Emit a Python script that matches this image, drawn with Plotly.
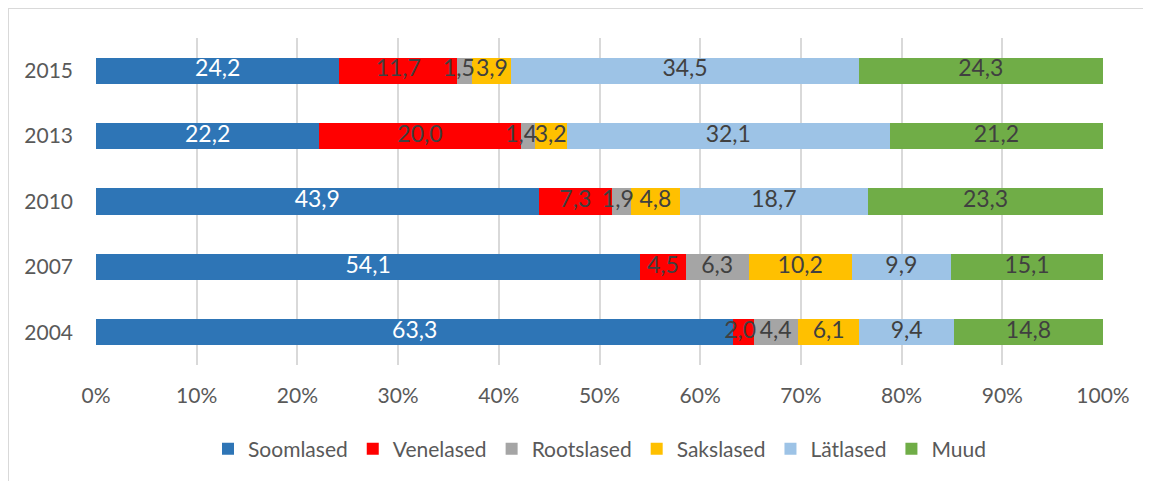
import plotly.graph_objects as go

years = ["2015", "2013", "2010", "2007", "2004"]
series_names = ["Soomlased", "Venelased", "Rootslased", "Sakslased", "Lätlased", "Muud"]
soomlased = [24.2, 22.2, 43.9, 54.1, 63.3]
venelased = [11.7, 20.0, 7.3, 4.5, 2.0]
rootslased = [1.5, 1.4, 1.9, 6.3, 4.4]
sakslased = [3.9, 3.2, 4.8, 10.2, 6.1]
latlased = [34.5, 32.1, 18.7, 9.9, 9.4]
muud = [24.3, 21.2, 23.3, 15.1, 14.8]
colors = ["#2E75B6", "#FF0000", "#A5A5A5", "#FFC000", "#9DC3E6", "#70AD47"]
text_colors = ["#FFFFFF", "#404040", "#404040", "#404040", "#404040", "#404040"]
x_ticks = [0, 10, 20, 30, 40, 50, 60, 70, 80, 90, 100]

all_series = [soomlased, venelased, rootslased, sakslased, latlased, muud]

FONT = "Lato, Open Sans, sans-serif"
FS = 21
LFS = 23

fig = go.Figure()
for name, vals, col in zip(series_names, all_series, colors):
    fig.add_trace(go.Bar(
        name=name, y=years, x=vals, orientation="h",
        marker=dict(color=col, line=dict(width=0)),
        hoverinfo="x+y+name",
    ))

# Data labels drawn above all bars (positions derived from the data)
totals = [sum(s[i] for s in all_series) for i in range(len(years))]
cum = [0.0] * len(years)
for vals, tcol in zip(all_series, text_colors):
    center_x, center_y, center_t = [], [], []
    end_x, end_y, end_t = [], [], []
    for i, v in enumerate(vals):
        start = cum[i] / totals[i] * 100
        stop = (cum[i] + v) / totals[i] * 100
        lbl = f"{v:.1f}".replace(".", ",")
        if v <= 2.0:
            end_x.append(stop + 0.25); end_y.append(years[i]); end_t.append(lbl)
        else:
            center_x.append((start + stop) / 2); center_y.append(years[i]); center_t.append(lbl)
        cum[i] += v
    for xs, ys, ts, pos in ((center_x, center_y, center_t, "middle center"),
                            (end_x, end_y, end_t, "middle left")):
        if xs:
            fig.add_trace(go.Scatter(
                x=xs, y=ys, text=ts, mode="text", textposition=pos,
                textfont=dict(color=tcol, size=LFS, family=FONT),
                showlegend=False, hoverinfo="skip", cliponaxis=False,
            ))

fig.update_layout(
    barmode="stack", barnorm="percent", bargap=0.6,
    width=1143, height=473,
    margin=dict(l=88, r=48, t=30, b=116),
    paper_bgcolor="white", plot_bgcolor="white",
    font=dict(family=FONT, color="#595959", size=FS),
    legend=dict(orientation="h", x=0.5, xanchor="center", y=-0.257, yanchor="middle",
                font=dict(size=FS, color="#595959"), traceorder="normal",
                itemwidth=30, tracegroupgap=0),
    xaxis=dict(range=[0, 100], tickvals=x_ticks, ticktext=[f"{t}%" for t in x_ticks],
               showgrid=True, gridcolor="#D9D9D9", gridwidth=1.5, zeroline=False,
               showline=False, ticks="", ticklabelstandoff=16,
               tickfont=dict(size=FS, color="#595959"),
               fixedrange=True),
    yaxis=dict(categoryorder="array", categoryarray=years, autorange="reversed",
               showgrid=False, zeroline=False, showline=False, ticks="",
               ticklabelstandoff=22,
               tickfont=dict(size=FS, color="#595959")),
    shapes=[
        dict(type="line", xref="paper", yref="paper", x0=-0.0874, x1=1.1, y0=1.0917, y1=1.0917,
             line=dict(color="#D9D9D9", width=2)),
        dict(type="line", xref="paper", yref="paper", x0=-0.0874, x1=-0.0874, y0=1.0917, y1=-0.5,
             line=dict(color="#D9D9D9", width=2)),
    ],
)

fig.write_html("out.html")
